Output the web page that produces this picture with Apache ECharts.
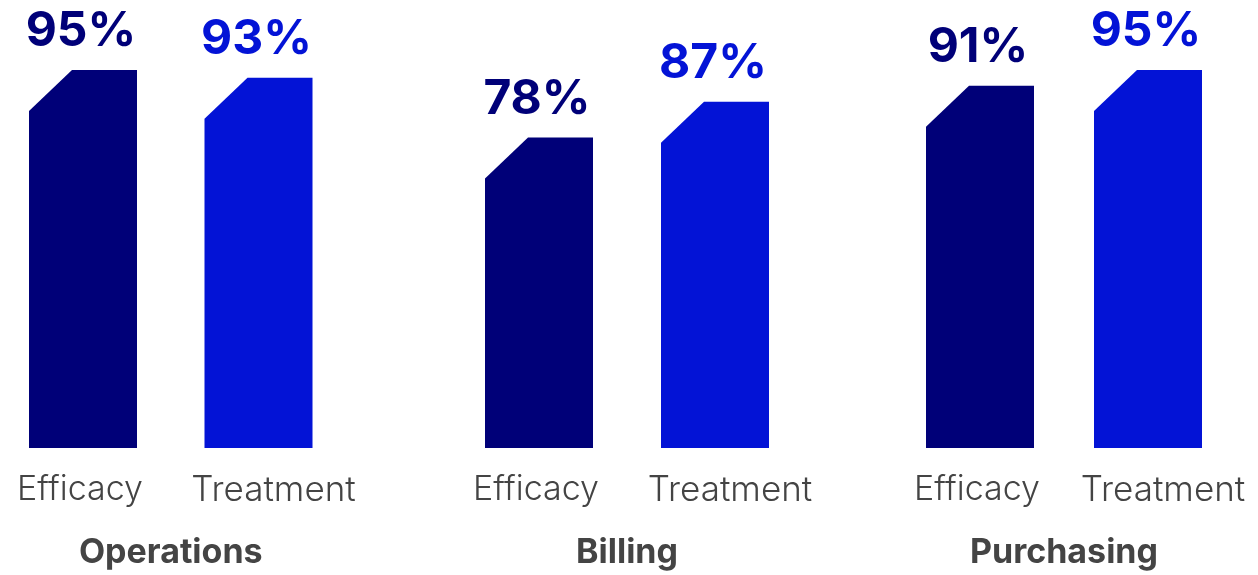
<!DOCTYPE html>
<html>
<head>
<meta charset="utf-8">
<script src="https://cdn.jsdelivr.net/npm/echarts@6/dist/echarts.min.js"></script>
<style>
  html, body { margin: 0; padding: 0; background: #fff; }
  #chart { width: 1258px; height: 575px; }
</style>
</head>
<body>
<div id="chart"></div>
<script>
const groups = ['Operations', 'Billing', 'Purchasing']
const measures = ['Efficacy', 'Treatment']
const efficacy = [95, 78, 91]
const treatment = [93, 87, 95]

const colors = ['#000078', '#0313D6']
const font = 'Inter, "Noto Sans", sans-serif'
// grid placement: left edge = first bar centre, width = distance between bar centres
const slots = [[83, 175.5], [539, 176], [980, 168]]

const chart = echarts.init(document.getElementById('chart'))

const grids = [], xAxes = [], yAxes = [], series = []
groups.forEach((g, i) => {
  grids.push({ left: slots[i][0], width: slots[i][1], top: 50, bottom: 125 })
  xAxes.push({
    type: 'category',
    gridIndex: i,
    data: measures,
    boundaryGap: false,
    axisLine: { show: false },
    axisTick: { show: false },
    axisLabel: {
      interval: 0,
      fontSize: 34,
      color: '#444',
      fontFamily: font,
      fontWeight: 300,
      margin: 25,
      formatter: (v, idx) => idx === 1 ? '{t|' + v + '}' : '{e|' + v + '}',
      rich: {
        e: { fontSize: 34, color: '#444', fontFamily: font, fontWeight: 300, padding: [0, 6, 0, 0] },
        t: { fontSize: 35, color: '#444', fontFamily: font, fontWeight: 300, padding: [0, 0, 0, 30] }
      }
    },
    name: g,
    nameLocation: 'middle',
    nameGap: 88,
    nameTextStyle: { fontSize: 34, fontWeight: 'bold', color: '#444', fontFamily: font }
  })
  yAxes.push({ type: 'value', gridIndex: i, min: 0, max: 100, show: false })
  series.push({
    type: 'custom',
    xAxisIndex: i,
    yAxisIndex: i,
    clip: false,
    data: [[0, efficacy[i]], [1, treatment[i]]],
    renderItem (params, api) {
      const idx = api.value(0)
      const val = api.value(1)
      const base = api.coord([idx, 0])
      const top = api.coord([idx, val])
      const w = 108
      const x1 = base[0] - w / 2
      const x2 = base[0] + w / 2
      return {
        type: 'group',
        children: [{
          type: 'polygon',
          shape: {
            points: [[x1, base[1]], [x1, top[1] + 41], [x1 + 43, top[1]], [x2, top[1]], [x2, base[1]]]
          },
          style: { fill: colors[idx] }
        }, {
          type: 'text',
          style: {
            text: val + '%',
            x: base[0] - 2,
            y: top[1] - 14,
            align: 'center',
            verticalAlign: 'bottom',
            fontSize: 48,
            fontWeight: 'bold',
            fontFamily: font,
            fill: colors[idx]
          }
        }]
      }
    }
  })
})

chart.setOption({
  animation: false,
  grid: grids,
  xAxis: xAxes,
  yAxis: yAxes,
  series: series
})
</script>
</body>
</html>
